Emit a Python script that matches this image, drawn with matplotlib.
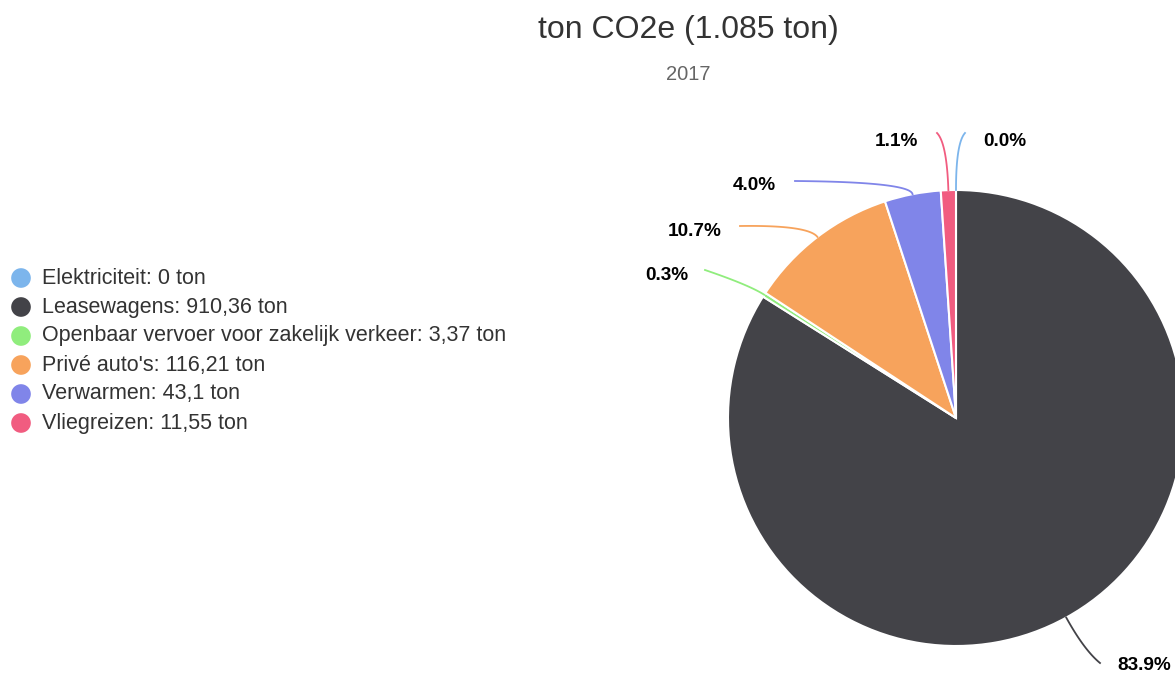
import matplotlib.pyplot as plt
import numpy as np

plt.rcParams['font.family'] = ['Liberation Sans', 'DejaVu Sans']

# data
categories = ['Elektriciteit', 'Leasewagens', 'Openbaar vervoer voor zakelijk verkeer',
              "Privé auto's", 'Verwarmen', 'Vliegreizen']
values = [0, 910.36, 3.37, 116.21, 43.1, 11.55]
value_labels = ['0', '910,36', '3,37', '116,21', '43,1', '11,55']
colors = ['#7cb5ec', '#434348', '#90ed7d', '#f7a35c', '#8085e9', '#f15c80']

W, H = 1175, 677
fig = plt.figure(figsize=(W / 100, H / 100), dpi=100)
ax = fig.add_axes([0, 0, 1, 1])

cx, cy, r = 956, H - 418, 228
ax.pie(values, colors=colors, startangle=90, counterclock=False,
       center=(cx, cy), radius=r,
       wedgeprops=dict(edgecolor='white', linewidth=1.5))
ax.set_xlim(0, W)
ax.set_ylim(0, H)
ax.set_aspect('equal')
ax.axis('off')

# data labels with connectors (layout positions in screen px)
# (knee y, end x, end y, label x, label y, ha)
label_layout = [
    (143, 965, 133, 983, 141, 'left'),
    (650, 1100, 663, 1117, 665, 'left'),
    (285, 705, 270, 688, 275, 'right'),
    (225, 740, 226, 722, 231, 'right'),
    (182, 795, 181, 776, 186, 'right'),
    (143, 937, 133, 918, 141, 'right'),
]
vals = np.array(values)
pct = vals / vals.sum() * 100
cum = np.concatenate([[0], np.cumsum(vals)]) / vals.sum() * 360
sy = H - cy  # centre y in screen px
for i, (ky, ex, ey, lx, ly, ha) in enumerate(label_layout):
    mid = np.radians((cum[i] + cum[i + 1]) / 2)
    x0 = cx + r * np.sin(mid)
    y0 = sy - r * np.cos(mid)
    rk = (sy - ky) / np.cos(mid)
    x1 = cx + rk * np.sin(mid)
    y1 = sy - rk * np.cos(mid)
    # smooth the corner a bit with a quadratic curve
    t = np.linspace(0, 1, 30)[:, None]
    p0, p1, p2 = np.array([x0, y0]), np.array([x1, y1]), np.array([ex, ey])
    pts = (1 - t) ** 2 * p0 + 2 * (1 - t) * t * p1 + t ** 2 * p2
    ax.plot(pts[:, 0], H - pts[:, 1], color=colors[i], lw=1.3)
    ax.text(lx, H - ly, f'{pct[i]:.1f}%', ha=ha, va='center', fontsize=13.7,
            fontweight='bold', color='black')

# title
fig.text(688 / W, 1 - 30 / H, 'ton CO2e (1.085 ton)', ha='center', va='center',
         fontsize=23, color='#333333')
fig.text(688 / W, 1 - 74 / H, '2017', ha='center', va='center',
         fontsize=14.5, color='#666666')

# legend
for i, cat in enumerate(categories):
    y = H - (278 + 29 * i)
    ax.scatter([21], [y], s=200, color=colors[i], edgecolor='none')
    ax.text(42, y, f'{cat}: {value_labels[i]} ton', ha='left', va='center',
            fontsize=15.5, color='#333333')

fig.savefig('out.png', dpi=100)
